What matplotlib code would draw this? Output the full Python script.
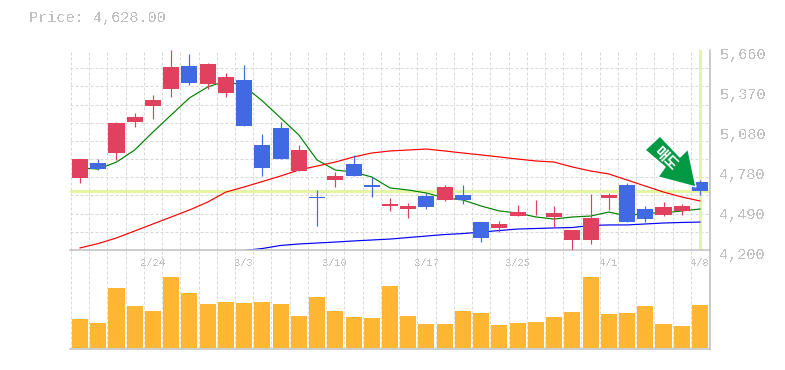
import numpy as np
import matplotlib
matplotlib.use('Agg')
import matplotlib.pyplot as plt
from matplotlib.patches import Polygon
from matplotlib.transforms import Affine2D, ScaledTranslation

plt.rcParams['font.family'] = ['Liberation Mono', 'Noto Sans CJK KR', 'DejaVu Sans']
plt.rcParams['text.antialiased'] = False

# Daily prices, one per session
opens = [4726, 4835, 4908, 5134, 5251, 5375, 5543, 5412, 5346, 5441, 4967, 5091,
         4777, 4585, 4711, 4828, 4675, 4521, 4499, 4594, 4565, 4602, 4404, 4361,
         4448, 4503, 4441, 4273, 4273, 4580, 4675, 4499, 4456, 4485, 4696]
highs = [4864, 4864, 5134, 5200, 5331, 5660, 5631, 5565, 5492, 5550, 5047, 5134,
         4967, 4638, 4769, 4894, 4733, 4580, 4543, 4616, 4675, 4675, 4404, 4412,
         4529, 4565, 4521, 4346, 4609, 4616, 4689, 4521, 4550, 4536, 4711]
lows = [4689, 4784, 4857, 5098, 5156, 5317, 5404, 5375, 5317, 5105, 4740, 4864,
        4777, 4375, 4660, 4740, 4587, 4485, 4434, 4499, 4558, 4536, 4258, 4331,
        4448, 4456, 4368, 4193, 4244, 4492, 4404, 4404, 4448, 4456, 4602]
closes = [4864, 4791, 5127, 5171, 5295, 5536, 5419, 5558, 5463, 5105, 4799, 4864,
          4930, 4578, 4740, 4740, 4660, 4536, 4521, 4514, 4660, 4565, 4288, 4390,
          4477, 4510, 4470, 4346, 4434, 4602, 4404, 4426, 4514, 4521, 4628]
# red candles are the rising ones in this chart, blue the falling ones
rising = [True, False, True, True, True, True, False, True, True, False, False, False,
          True, False, True, False, False, True, True, False, True, False, False, True,
          True, True, True, True, True, True, False, False, True, True, False]

ma5 = [4799, 4791, 4842, 4930, 5061, 5186, 5310, 5390, 5434, 5397, 5288, 5164,
       5040, 4857, 4784, 4769, 4733, 4653, 4638, 4616, 4580, 4565, 4521, 4485,
       4470, 4441, 4426, 4441, 4448, 4477, 4448, 4470, 4470, 4485, 4499]
ma20 = [4215, 4247, 4288, 4339, 4390, 4441, 4492, 4550, 4623, 4660, 4700, 4740,
        4784, 4813, 4842, 4879, 4908, 4923, 4930, 4937, 4923, 4908, 4894, 4879,
        4864, 4850, 4842, 4806, 4777, 4755, 4711, 4667, 4623, 4587, 4558]
# the long average only comes into range from the tenth session
ma60 = [np.nan] * 9 + [4196, 4211, 4233, 4244, 4251, 4258, 4266, 4273, 4280, 4291,
                       4302, 4313, 4320, 4331, 4342, 4353, 4357, 4361, 4364, 4379,
                       4383, 4383, 4390, 4397, 4401, 4404]

volumes = [287, 247, 597, 417, 367, 707, 547, 437, 457, 447, 457, 437,
           317, 507, 367, 307, 297, 617, 317, 237, 237, 367, 347, 227,
           247, 257, 307, 357, 707, 337, 347, 417, 237, 217, 427]

date_pos = [4, 9, 14, 19, 24, 29, 34]
date_labels = ['2/24', '3/3', '3/10', '3/17', '3/25', '4/1', '4/8']
price_labels = ['4,200', '4,490', '4,780', '5,080', '5,370', '5,660']
price_min, price_max = 4200, 5660
last_price = 4628

RED = '#e2405f'
BLUE = '#4169e1'
GRID = '#d8d8d8'
EDGE = '#c0c0c0'
LIME = '#e4f6a6'
DASH = (0, (3, 2))
W, H = 785, 370

fig = plt.figure(figsize=(W / 100, H / 100), dpi=100)
ax = fig.add_axes([70 / W, 1 - 250 / H, 640 / W, 200 / H])
axv = fig.add_axes([70 / W, 1 - 349 / H, 640 / W, 99 / H], facecolor='none')

x = np.arange(len(opens))
xlim = (-0.55, 34.55)

ax.set_xlim(xlim)
ax.set_ylim(price_min, price_max)
ax.set_xticks(date_pos, date_labels)
ax.set_xticks(np.append(x - 0.5, 34.5), minor=True)
ax.set_yticks(np.linspace(price_min, price_max, 6), price_labels)
ax.set_yticks(np.linspace(price_min, price_max, 12), minor=True)
ax.yaxis.tick_right()
ax.grid(which='minor', color=GRID, lw=0.72, ls=DASH)
ax.set_axisbelow(True)
ax.tick_params(which='both', length=0)
ax.tick_params(axis='y', labelsize=11, labelcolor=EDGE, pad=7)
ax.tick_params(axis='x', labelsize=7.6, labelcolor=EDGE, pad=6)
# value labels sit a little under their ticks
for lab in ax.get_yticklabels():
    lab.set_transform(lab.get_transform() + ScaledTranslation(0, -3 / 100, fig.dpi_scale_trans))
for name in ['left', 'top']:
    ax.spines[name].set_visible(False)
for name in ['right', 'bottom']:
    ax.spines[name].set_color(EDGE)
    ax.spines[name].set_linewidth(1.1)

# current price cross
ax.axhline(last_price, color=LIME, lw=2.3, zorder=1.5)
ax.axvline(34, ymin=0.005, ymax=0.995, color=LIME, lw=2.3, zorder=1.5)

ax.plot(x, ma5, color='#008000', lw=0.85, zorder=2)
ax.plot(x, ma20, color='#ff0000', lw=0.85, zorder=2)
ax.plot(x, ma60, color='#0000ff', lw=0.85, zorder=2)

colors = [RED if r else BLUE for r in rising]
tops = np.maximum(opens, closes)
bottoms = np.minimum(opens, closes)
ax.vlines(x, lows, highs, colors=colors, lw=0.85, zorder=3)
ax.bar(x, tops - bottoms, 0.88, bottom=bottoms, color=colors, zorder=3, linewidth=0)

# arrow pointing at the last close, drawn in pixels from that point
fig.canvas.draw()
tx, ty = ax.transData.transform((34, highs[-1]))
arrow = [(-40, 44), (-55, 30), (-35, 13), (-42, 3), (-4, -7), (-12, 31), (-20, 23)]
ax.add_patch(Polygon(arrow, closed=True, transform=Affine2D().translate(tx, ty), fc='#009944',
                     ec='white', lw=1, zorder=5, clip_on=False))
fig.text((tx - 34) / W, (ty + 22) / H, '매도', color='white', fontsize=10.5, fontweight='bold',
         rotation=-45, ha='center', va='center', family=['Noto Sans CJK KR'], zorder=6,
         antialiased=True)

axv.set_xlim(xlim)
axv.set_ylim(-10, 980)
axv.bar(x, volumes, 0.88, color='#ffb733', linewidth=0, zorder=3)
axv.set_xticks(np.append(x - 0.5, 34.5))
axv.set_yticks([])
axv.grid(axis='x', color=GRID, lw=0.72, ls=DASH)
axv.set_axisbelow(True)
axv.tick_params(length=0, labelbottom=False)
for name in ['left', 'top']:
    axv.spines[name].set_visible(False)
for name in ['right', 'bottom']:
    axv.spines[name].set_color(EDGE)
    axv.spines[name].set_linewidth(1.1)

fig.text(29 / W, 1 - 18 / H, 'Price: 4,628.00', color=EDGE, fontsize=11, va='center')

fig.savefig('out.png', dpi=100)
